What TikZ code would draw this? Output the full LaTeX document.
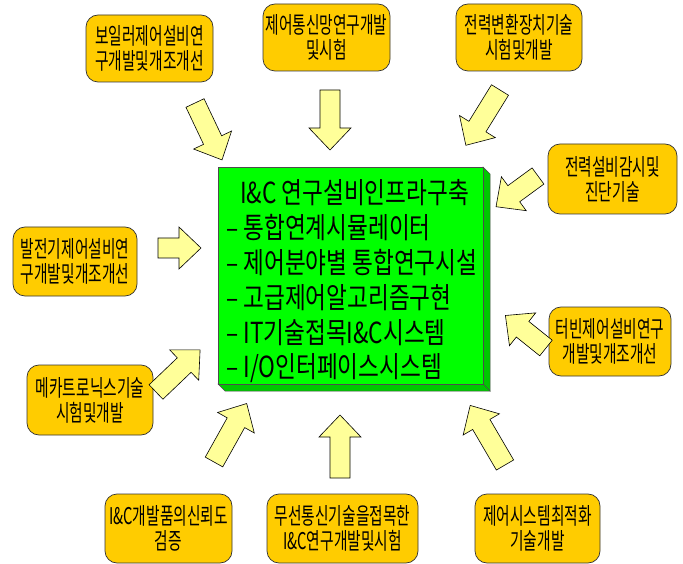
\documentclass[tikz,border=0pt]{standalone}
\usepackage{fontspec}
\newfontfamily\kr[FakeStretch=0.64]{Noto Sans CJK KR}
\newfontfamily\krc[FakeStretch=0.78]{Noto Sans CJK KR}
\definecolor{boxyellow}{RGB}{255,204,0}
\definecolor{arryellow}{RGB}{255,255,153}
\definecolor{cgreen}{RGB}{0,255,0}
\definecolor{cgreendark}{RGB}{0,200,0}
\newcommand{\blockarr}[4]{%
\begin{scope}[shift={#2}, rotate=#3]
\draw[barrow] (0,-10) -- ({#4-22},-10) -- ({#4-22},-21) -- (#4,0) -- ({#4-22},21) -- ({#4-22},10) -- (0,10) -- cycle;
\coordinate (#1) at (#4,0);
\end{scope}}
\begin{document}
\begin{tikzpicture}[x=1pt,y=1pt,
  ybox/.style={draw=black!80, line width=0.7pt, fill=boxyellow, rounded corners=12pt,
    inner sep=0pt, align=center, font=\kr\fontsize{23}{25}\selectfont},
  barrow/.style={draw=black, line width=0.6pt, fill=arryellow, line join=miter},
  ctext/.style={anchor=west, inner sep=0pt, font=\krc\fontsize{29}{35}\selectfont}]
\useasboundingbox (0,0) rectangle (683,-564);
% center cube
\fill[cgreendark, draw=black!70, line width=0.5pt] (483,-167) -- (490,-174) -- (490,-391) -- (483,-384) -- cycle;
\fill[cgreendark, draw=black!70, line width=0.5pt] (218,-384) -- (483,-384) -- (490,-391) -- (225,-391) -- cycle;
\node[draw=black!70, line width=0.5pt, fill=cgreen, minimum width=265pt, minimum height=217pt, inner sep=0pt] (core) at (350.5,-275.5) {};
\node[ctext] (t0) at (240,-193) {I\&C 연구설비인프라구축};
\node[ctext] (t1) at (226,-228) {– 통합연계시뮬레이터};
\node[ctext] (t2) at (226,-263) {– 제어분야별 통합연구시설};
\node[ctext] (t3) at (226,-298) {– 고급제어알고리즘구현};
\node[ctext] (t4) at (226,-333) {– IT기술접목I\&C시스템};
\node[ctext] (t5) at (226,-368) {– I/O인터페이스시스템};
% boxes
\node[ybox, minimum width=127pt, minimum height=67pt] (b1) at (149.5,-48.5) {보일러제어설비연\\구개발및개조개선};
\node[ybox, minimum width=127pt, minimum height=67pt] (b2) at (326.5,-37.5) {제어통신망연구개발\\및시험};
\node[ybox, minimum width=126pt, minimum height=67pt] (b3) at (519,-37.5) {전력변환장치기술\\시험및개발};
\node[ybox, minimum width=129pt, minimum height=70pt] (b4) at (612.5,-179) {전력설비감시및\\진단기술};
\node[ybox, minimum width=124pt, minimum height=69pt] (b5) at (75,-261.5) {발전기제어설비연\\구개발및개조개선};
\node[ybox, minimum width=122pt, minimum height=69pt] (b6) at (610,-341.5) {터빈제어설비연구\\개발및개조개선};
\node[ybox, minimum width=126pt, minimum height=70pt] (b7) at (90,-400) {메카트로닉스기술\\시험및개발};
\node[ybox, minimum width=127pt, minimum height=69pt] (b8) at (168.5,-528.5) {I\&C개발품의신뢰도\\검증};
\node[ybox, minimum width=151pt, minimum height=69pt] (b9) at (342.5,-528.5) {무선통신기술을접목한\\I\&C연구개발및시험};
\node[ybox, minimum width=125pt, minimum height=69pt] (b10) at (537.5,-528.5) {제어시스템최적화\\기술개발};
% arrows
\blockarr{a1}{(195,-103)}{-64.6}{63}
\blockarr{a2}{(330,-90)}{-90}{60}
\blockarr{a3}{(500,-90)}{-121.7}{65}
\blockarr{a4}{(538,-176)}{-143.8}{52}
\blockarr{a5}{(158,-248)}{0}{43}
\blockarr{a6}{(546,-348)}{141.3}{52}
\blockarr{a7}{(156,-392)}{43.7}{61}
\blockarr{a8}{(214,-462)}{60.8}{67}
\blockarr{a9}{(340,-478)}{90}{63}
\blockarr{a10}{(505,-465)}{120.3}{69}
\end{tikzpicture}
\end{document}
